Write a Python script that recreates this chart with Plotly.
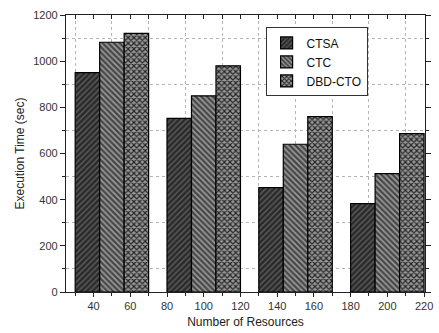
import plotly.graph_objects as go

resources = [50, 100, 150, 200]
ctsa = [950, 752, 452, 383]
ctc = [1082, 850, 640, 513]
dbd_cto = [1120, 980, 760, 686]

series = [
    ("CTSA", ctsa, dict(shape="/", bgcolor="#2a2a2a", fgcolor="#5e5e5e", size=4, solidity=0.35, fillmode="replace")),
    ("CTC", ctc, dict(shape="\\", bgcolor="#474747", fgcolor="#9c9c9c", size=4, solidity=0.4, fillmode="replace")),
    ("DBD-CTO", dbd_cto, dict(shape="x", bgcolor="#9a9a9a", fgcolor="#262626", size=4, solidity=0.5, fillmode="replace")),
]

fig = go.Figure()
for name, vals, pat in series:
    fig.add_trace(go.Bar(
        x=resources, y=vals, name=name,
        marker=dict(color=pat["bgcolor"], pattern=pat, line=dict(color="black", width=1.2)),
    ))

font = dict(family="Liberation Sans, Arial, sans-serif", color="#222", size=11)
grid = dict(showgrid=True, gridcolor="#b4b4b4", griddash="dot", gridwidth=1)
fig.update_layout(
    width=439, height=333,
    margin=dict(l=66, r=6, t=15, b=41),
    paper_bgcolor="white", plot_bgcolor="white",
    barmode="group", bargap=0.2, bargroupgap=0,
    font=font,
    showlegend=True,
    legend=dict(x=0.556, y=0.955, xanchor="left", yanchor="top",
                bordercolor="#333", borderwidth=1, bgcolor="white",
                font=dict(size=12, family="Liberation Sans, Arial, sans-serif", color="#111"),
                tracegroupgap=0, itemwidth=30),
    xaxis=dict(
        range=[25, 220.5], tickvals=[40, 60, 80, 100, 120, 140, 160, 180, 200, 220],
        showgrid=False, zeroline=False,
        showline=True, linecolor="#222", linewidth=1.2, mirror=True,
        ticks="outside", ticklen=4, tickcolor="#222", tickwidth=1,
        tickfont=dict(size=11, color="#333"),
        minor=dict(tickvals=[30, 50, 70, 90, 110, 130, 150, 170, 190, 210],
                   ticks="outside", ticklen=3, tickcolor="#222", **grid),
        title=dict(text="Number of Resources", font=dict(size=12), standoff=6),
    ),
    yaxis=dict(
        range=[0, 1200], tickvals=[0, 200, 400, 600, 800, 1000, 1200],
        showgrid=False, zeroline=False,
        showline=True, linecolor="#222", linewidth=1.2, mirror="ticks",
        ticks="outside", ticklen=5, tickcolor="#222",
        tickfont=dict(size=11, color="#333"),
        minor=dict(tickvals=[100, 300, 500, 700, 900, 1100],
                   ticks="outside", ticklen=3, tickcolor="#222", **grid),
        title=dict(text="Execution Time (sec)", font=dict(size=12), standoff=6),
    ),
    xaxis2=dict(
        overlaying="x", side="top", matches="x", range=[25, 220.5],
        tickvals=[40, 60, 80, 100, 120, 140, 160, 180, 200, 220],
        showticklabels=False, showgrid=False, zeroline=False,
        ticks="inside", ticklen=4, tickcolor="#222",
        minor=dict(tickvals=[30, 50, 70, 90, 110, 130, 150, 170, 190, 210],
                   ticks="inside", ticklen=4, tickcolor="#222"),
    ),
)
# invisible trace to activate the top axis
fig.add_trace(go.Scatter(x=[25], y=[0], xaxis="x2", mode="markers",
                         marker=dict(opacity=0), showlegend=False, hoverinfo="skip"))

fig.write_html("out.html")
